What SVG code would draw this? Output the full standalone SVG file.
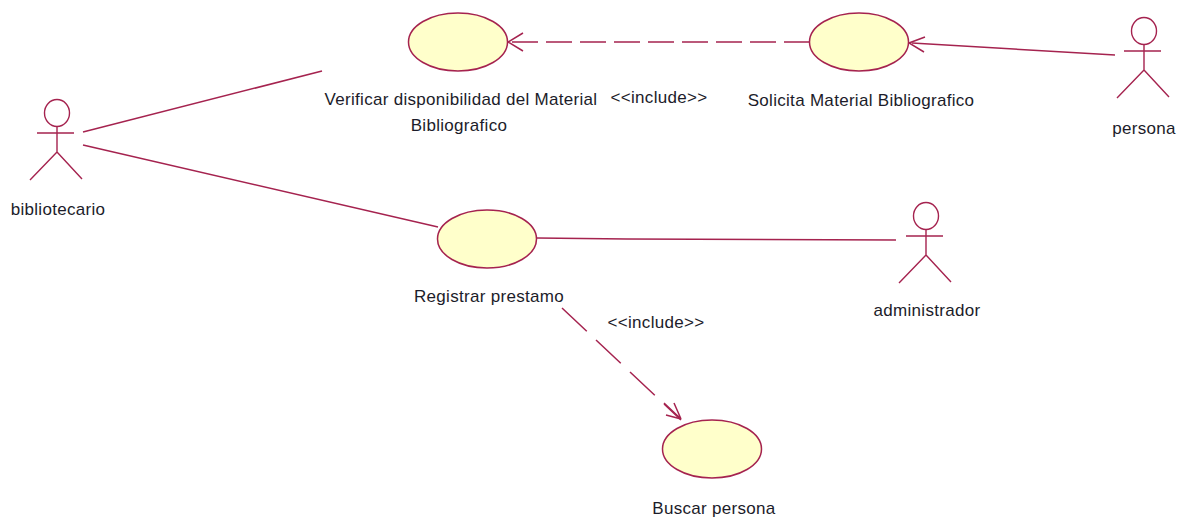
<svg xmlns="http://www.w3.org/2000/svg" width="1187" height="520" viewBox="0 0 1187 520">
<style>
.u{fill:#ffffcb;stroke:#a5234f;stroke-width:1.5}
.l{fill:none;stroke:#a5234f;stroke-width:1.4}
.c{fill:none;stroke:#a5234f;stroke-width:1.5}
.d{stroke-dasharray:26 8}
.t{font-family:"Liberation Sans",Arial,sans-serif;font-size:17px;letter-spacing:.3px;fill:#1c1c2a;text-anchor:middle}
</style>
<defs>
<g id="actor" class="l"><ellipse cx="1" cy="-53" rx="12.500" ry="13.500"/><path d="M-19-33H18M1-40V-14M1-14L-26 14M1-14L26 13"/></g>
</defs>
<rect width="1187" height="520" fill="#fff"/>
<g id="connectors">
<path class="c" d="M83 132L322 71"/>
<path class="c" d="M83 145L438 227"/>
<path class="c" d="M537 238L627 239L896 240"/>
<path class="c" d="M1115 55L912 43"/>
<path class="c" d="M925 37L909 43L924 52"/>
<path class="c d" d="M810 42H512"/>
<path class="c" d="M523 33L508 42L523 51"/>
<path class="c" d="M562 308L681 420" stroke-dasharray="34 12.700"/>
<path class="c" d="M664 403L681 419L666 415M674 403L681 419"/>
</g>
<g id="verificar"><ellipse class="u" cx="458" cy="42" rx="49.500" ry="29"/><text class="t" x="461" y="105">Verificar disponibilidad del Material</text><text class="t" x="459" y="131">Bibliografico</text></g>
<g id="solicita"><ellipse class="u" cx="859" cy="42" rx="49.500" ry="29"/><text class="t" x="861" y="106">Solicita Material Bibliografico</text></g>
<g id="registrar"><ellipse class="u" cx="487" cy="239" rx="49.500" ry="29"/><text class="t" x="489" y="302">Registrar prestamo</text></g>
<g id="buscar"><ellipse class="u" cx="712" cy="449" rx="49.500" ry="29"/><text class="t" x="714" y="514">Buscar persona</text></g>
<g id="bibliotecario"><use href="#actor" x="56" y="166"/><text class="t" x="58" y="215">bibliotecario</text></g>
<g id="persona"><use href="#actor" x="1143" y="84"/><text class="t" x="1144" y="134">persona</text></g>
<g id="administrador"><use href="#actor" x="925" y="269"/><text class="t" x="927" y="316">administrador</text></g>
<g id="labels"><text class="t" x="659" y="103">&lt;&lt;include&gt;&gt;</text><text class="t" x="656" y="328">&lt;&lt;include&gt;&gt;</text></g>
</svg>
